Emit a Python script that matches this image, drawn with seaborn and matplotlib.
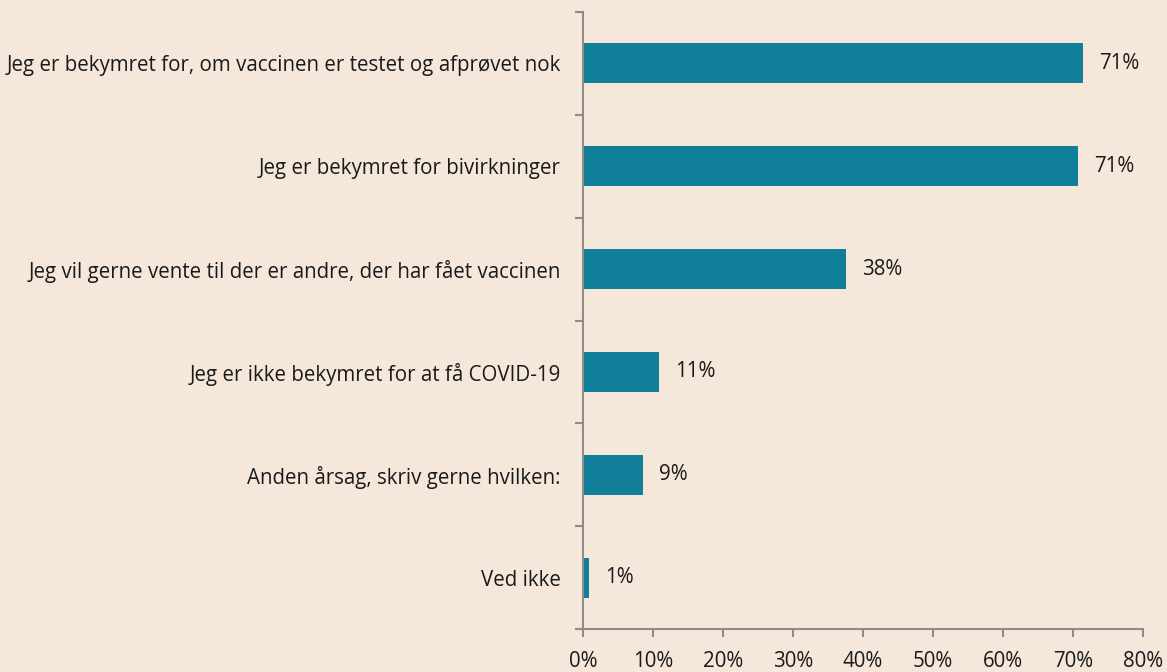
import pandas as pd
import matplotlib
matplotlib.use("Agg")
import matplotlib.pyplot as plt
import seaborn as sns

# data
categories = [
    "Jeg er bekymret for, om vaccinen er testet og afprøvet nok",
    "Jeg er bekymret for bivirkninger",
    "Jeg vil gerne vente til der er andre, der har fået vaccinen",
    "Jeg er ikke bekymret for at få COVID-19",
    "Anden årsag, skriv gerne hvilken:",
    "Ved ikke",
]
shares = [71.4, 70.7, 37.6, 10.9, 8.6, 0.9]
labels = ["71%", "71%", "38%", "11%", "9%", "1%"]
xticks = [0, 10, 20, 30, 40, 50, 60, 70, 80]

df = pd.DataFrame({"category": categories, "share": shares})

bg = "#F5E8DB"
bar_color = "#117F9A"
axis_gray = "#8C8C8C"
txt = "#1a1a1a"
fs = 14.8

sns.set_style("white")
plt.rcParams["font.family"] = ["Open Sans", "DejaVu Sans"]

fig = plt.figure(figsize=(11.67, 6.72), dpi=100, facecolor=bg)
ax = fig.add_axes([583 / 1167, 1 - 629 / 672, 560 / 1167, 617 / 672])
ax.set_facecolor(bg)

sns.barplot(data=df, x="share", y="category", color=bar_color, width=0.39,
            saturation=1, linewidth=0, edgecolor="none", ax=ax)

for i, (v, lab) in enumerate(zip(shares, labels)):
    ax.text(v + 2.3, i, lab, va="center", ha="left", fontsize=fs, color=txt)

ax.set_xlim(0, 80)
ax.set_ylim(5.5, -0.5)
ax.set_xticks(xticks)
ax.set_xticklabels([f"{t}%" for t in xticks], fontsize=fs, color=txt)
ax.set_yticks([i - 0.5 for i in range(7)], minor=False)
ax.set_yticklabels([])
ax.set_yticks(range(6), minor=True)
ax.set_yticklabels(categories, minor=True, fontsize=fs, color=txt)
ax.tick_params(axis="y", which="minor", left=False, length=0, pad=16)
ax.tick_params(axis="y", which="major", left=True, length=6, width=1.5,
               color=axis_gray, direction="out")
ax.tick_params(axis="x", bottom=True, length=6, width=1.5, color=axis_gray,
               direction="out", pad=10)
ax.set_xlabel("")
ax.set_ylabel("")

for side in ["top", "right"]:
    ax.spines[side].set_visible(False)
for side in ["left", "bottom"]:
    ax.spines[side].set_color(axis_gray)
    ax.spines[side].set_linewidth(1.5)

fig.savefig("out.png", facecolor=bg)
